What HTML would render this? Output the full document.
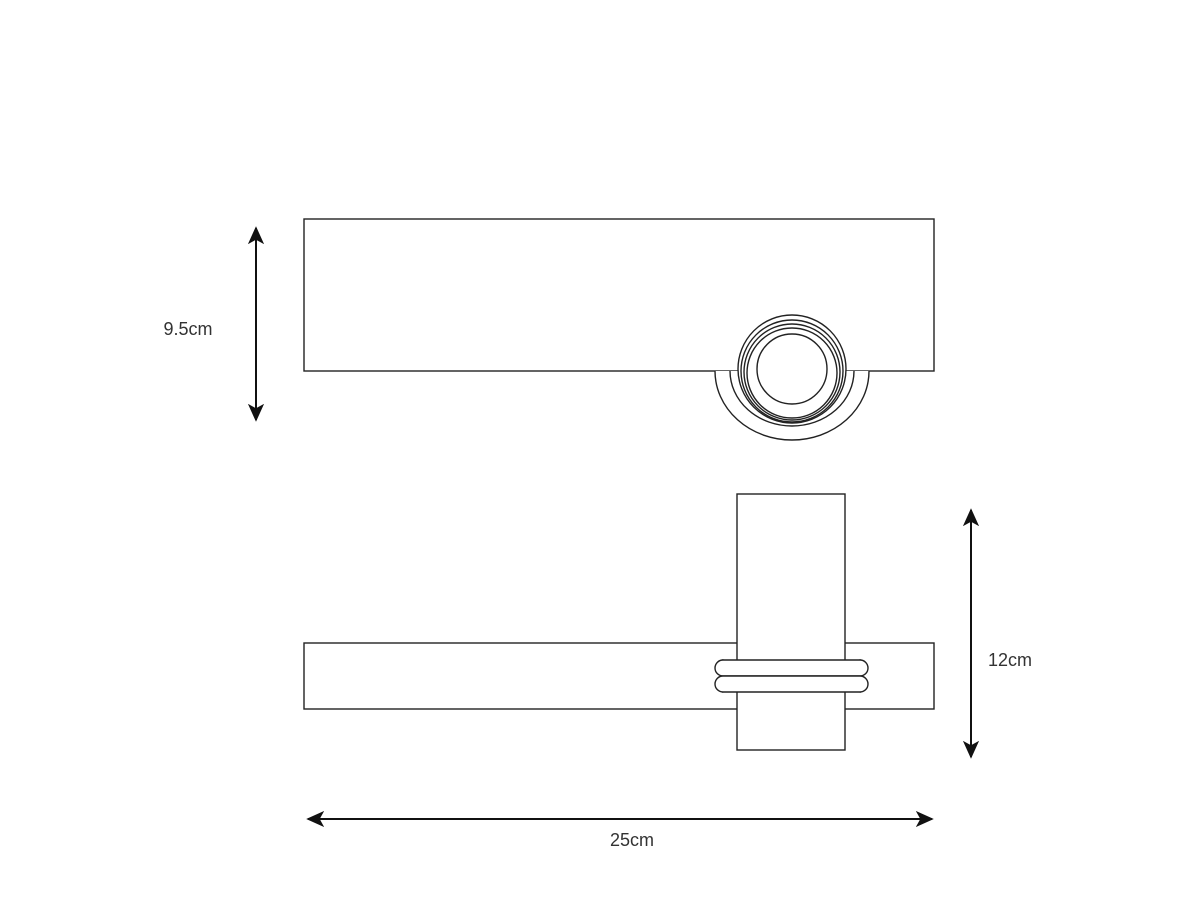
<!DOCTYPE html>
<html><head><style>body{margin:0;background:#fff}svg{display:block}</style></head><body>
<svg width="1200" height="900" viewBox="0 0 1200 900" xmlns="http://www.w3.org/2000/svg">
<defs>
<marker id="a" viewBox="0 0 20 20" refX="18" refY="10" markerWidth="18" markerHeight="18" markerUnits="userSpaceOnUse" orient="auto-start-reverse">
<path d="M0,1 L20,10 L0,19 L5,10 Z" fill="#111"/></marker>
</defs>
<g fill="none" stroke="#222" stroke-width="1.4">
<rect x="304" y="219" width="630" height="152"/>
<path d="M715,371 A77,69 0 0 0 869,371" fill="#fff"/>
<path d="M730,371 A62,55 0 0 0 854,371"/>
<circle cx="792" cy="369" r="54" fill="#fff"/>
<circle cx="792" cy="371" r="51"/>
<circle cx="792" cy="372" r="48"/>
<circle cx="792" cy="373" r="45"/>
<circle cx="792" cy="369" r="35"/>
<rect x="304" y="643" width="630" height="66"/>
<rect x="737" y="494" width="108" height="256" fill="#fff"/>
<path d="M722,660 a9,9 0 0 1 9,8 M722,692 a9,9 0 0 0 9,-8 M861,660 a9,9 0 0 0 -9,8 M861,692 a9,9 0 0 1 -9,-8"/>
<rect x="715" y="660" width="153" height="16" rx="8" fill="#fff"/>
<rect x="715" y="676" width="153" height="16" rx="8" fill="#fff"/>
</g>
<g stroke="#111" stroke-width="2">
<line x1="256" y1="420" x2="256" y2="228" marker-start="url(#a)" marker-end="url(#a)"/>
<line x1="971" y1="757" x2="971" y2="510" marker-start="url(#a)" marker-end="url(#a)"/>
<line x1="308" y1="819" x2="932" y2="819" marker-start="url(#a)" marker-end="url(#a)"/>
</g>
<g font-family="Liberation Sans, sans-serif" font-size="18" fill="#333">
<text x="188" y="335" text-anchor="middle">9.5cm</text>
<text x="1010" y="666" text-anchor="middle">12cm</text>
<text x="632" y="846" text-anchor="middle">25cm</text>
</g>
</svg>
</body></html>
